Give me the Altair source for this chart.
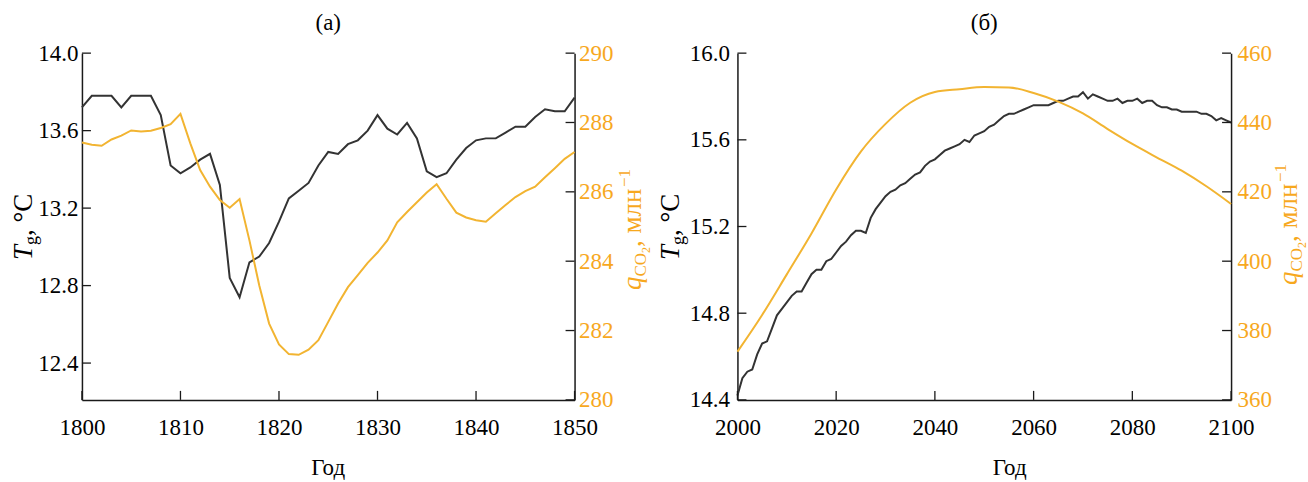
import altair as alt
import pandas as pd

# ---------------- data ----------------
# Panel (а): 1800-1850, annual values
years_a = list(range(1800, 1851))
temp_a = [
    13.72, 13.78, 13.78, 13.78, 13.72, 13.78, 13.78, 13.78, 13.68, 13.42,
    13.38, 13.41, 13.45, 13.48, 13.32, 12.84, 12.74, 12.92, 12.95, 13.02,
    13.13, 13.25, 13.29, 13.33, 13.42, 13.49, 13.48, 13.53, 13.55, 13.60,
    13.68, 13.61, 13.58, 13.64, 13.56, 13.39, 13.36, 13.38, 13.45, 13.51,
    13.55, 13.56, 13.56, 13.59, 13.62, 13.62, 13.67, 13.71, 13.70, 13.70,
    13.77,
]
co2_a = [
    287.42, 287.36, 287.33, 287.51, 287.62, 287.77, 287.74, 287.76, 287.84, 287.95,
    288.25, 287.40, 286.63, 286.15, 285.76, 285.54, 285.79, 284.60, 283.30, 282.20,
    281.60, 281.32, 281.30, 281.45, 281.72, 282.25, 282.78, 283.25, 283.60, 283.95,
    284.25, 284.60, 285.12, 285.42, 285.70, 285.98, 286.22, 285.80, 285.40, 285.26,
    285.18, 285.14, 285.38, 285.62, 285.85, 286.02, 286.15, 286.42, 286.68, 286.95,
    287.15,
]

# Panel (б): 2000-2100
years_b = list(range(2000, 2101))
temp_b = [
    14.42, 14.50, 14.53, 14.54, 14.61, 14.66, 14.67, 14.73, 14.79, 14.82,
    14.85, 14.88, 14.90, 14.90, 14.94, 14.98, 15.00, 15.00, 15.04, 15.05,
    15.08, 15.11, 15.13, 15.16, 15.18, 15.18, 15.17, 15.24, 15.28, 15.31,
    15.34, 15.36, 15.37, 15.39, 15.40, 15.42, 15.44, 15.45, 15.48, 15.50,
    15.51, 15.53, 15.55, 15.56, 15.57, 15.58, 15.60, 15.59, 15.62, 15.63,
    15.64, 15.66, 15.67, 15.69, 15.71, 15.72, 15.72, 15.73, 15.74, 15.75,
    15.76, 15.76, 15.76, 15.76, 15.77, 15.78, 15.78, 15.79, 15.80, 15.80,
    15.82, 15.79, 15.81, 15.80, 15.79, 15.78, 15.78, 15.79, 15.77, 15.78,
    15.78, 15.79, 15.77, 15.78, 15.78, 15.76, 15.75, 15.75, 15.74, 15.74,
    15.73, 15.73, 15.73, 15.73, 15.72, 15.72, 15.71, 15.69, 15.70, 15.69,
    15.68,
]
years_b_co2 = list(range(2000, 2101, 5))
co2_b = [
    373.9, 384.5, 396.2, 408.0, 420.7, 431.6, 439.6, 445.7, 448.8, 449.6,
    450.2, 450.1, 448.5, 446.0, 442.6, 438.1, 433.8, 429.9, 426.1, 421.6,
    416.5,
]

# tick values
xticks_a = [1800, 1810, 1820, 1830, 1840, 1850]
xticks_b = [2000, 2020, 2040, 2060, 2080, 2100]
tticks_a = [12.4, 12.8, 13.2, 13.6, 14.0]
tticks_b = [14.4, 14.8, 15.2, 15.6, 16.0]
qticks_a = [280, 282, 284, 286, 288, 290]
qticks_b = [360, 380, 400, 420, 440, 460]

# ---------------- style ----------------
FONT = "'Liberation Serif', 'Times New Roman', 'DejaVu Serif', serif"
BLACK_LINE = "#333333"
ORANGE_LINE = "#F2B431"
ORANGE_TEXT = "#F7A81E"
AXIS = "#1a1a1a"
H = 347
TICK = 9
one_row = pd.DataFrame({"k": [0]})


def text_piece(text, x, y, size, color, italic=False, angle=270, align="left"):
    return alt.Chart(one_row).mark_text(
        text=text, font=FONT, fontSize=size,
        fontStyle="italic" if italic else "normal",
        color=color, angle=angle, align=align, baseline="alphabetic",
    ).encode(x=alt.value(x), y=alt.value(y))


def t_title(bx, by):
    # T_g, °C written bottom-to-top
    return [
        text_piece("T", bx, by, 27, "black", italic=True),
        text_piece("g", bx + 5, by - 15, 18, "black"),
        text_piece(", °C", bx, by - 24, 27, "black"),
    ]


def q_title(bx, by):
    # q_CO2, млн^-1 written bottom-to-top
    return [
        text_piece("q", bx, by, 27, ORANGE_TEXT, italic=True),
        text_piece("CO", bx + 5, by - 13.5, 17, ORANGE_TEXT),
        text_piece("2", bx + 9, by - 37, 12, ORANGE_TEXT),
        text_piece(", млн", bx, by - 43, 27, ORANGE_TEXT),
        text_piece("−1", bx - 11, by - 103, 17, ORANGE_TEXT),
    ]


def build_panel(label, years, temp, q_years, q, x_dom, x_ticks, t_dom, t_ticks,
                q_dom, q_ticks, width, t_pad, q_pad, year_title_x,
                t_title_pos, q_title_pos, edge_x, q_interp):
    axis_base = dict(
        domainColor=AXIS, domainWidth=1.5, ticks=False, tickSize=0, grid=False,
        labelFont=FONT, labelFontSize=23, labelColor="black",
        labelFlush=False, labelOverlap=False,
    )
    x_scale = alt.Scale(domain=x_dom, nice=False, zero=False)
    x_axis = alt.Axis(
        values=x_ticks, format="d", title="Год", titleFont=FONT, titleFontSize=23,
        titleFontWeight="normal", titleColor="black", titleBaseline="alphabetic",
        titleY=75, titleX=year_title_x, labelBaseline="alphabetic", labelPadding=35,
        **axis_base,
    )
    x_enc = alt.X("year:Q", scale=x_scale, axis=x_axis)
    t_scale = alt.Scale(domain=t_dom, nice=False, zero=False)
    q_scale = alt.Scale(domain=q_dom, nice=False, zero=False)

    t_df = pd.DataFrame({"year": years, "T": temp})
    q_df = pd.DataFrame({"year": q_years, "q": q})

    t_line = alt.Chart(t_df).mark_line(color=BLACK_LINE, strokeWidth=2).encode(
        x=x_enc,
        y=alt.Y("T:Q", scale=t_scale,
                axis=alt.Axis(orient="left", values=t_ticks, format=".1f", title=None,
                              labelPadding=t_pad, **axis_base)),
    )
    t_ticks_layer = alt.Chart(pd.DataFrame({"T": t_ticks})).mark_rule(
        color=AXIS, strokeWidth=1.3).encode(
        y=alt.Y("T:Q", scale=t_scale, axis=None),
        x=alt.value(0), x2=alt.value(TICK),
    )
    q_line = alt.Chart(q_df).mark_line(color=ORANGE_LINE, strokeWidth=2,
                                       interpolate=q_interp).encode(
        x=x_enc,
        y=alt.Y("q:Q", scale=q_scale,
                axis=alt.Axis(orient="right", values=q_ticks, format="d", title=None,
                              labelPadding=q_pad, **{**axis_base, "labelColor": ORANGE_TEXT})),
    )
    q_ticks_layer = alt.Chart(pd.DataFrame({"q": q_ticks})).mark_rule(
        color=AXIS, strokeWidth=1.3).encode(
        y=alt.Y("q:Q", scale=q_scale, axis=None),
        x=alt.value(width - TICK), x2=alt.value(width),
    )
    x_ticks_layer = alt.Chart(pd.DataFrame({"year": x_ticks})).mark_rule(
        color=AXIS, strokeWidth=1.3).encode(
        x=x_enc, y=alt.value(H - TICK), y2=alt.value(H),
    )
    # transparent frame edge so the figure keeps its outer margins
    edge = alt.Chart(one_row).mark_rule(strokeOpacity=0, opacity=0).encode(
        x=alt.value(edge_x), y=alt.value(-53), y2=alt.value(429),
    )
    panel_label = text_piece(label, width / 2, -23, 23, "black", angle=0, align="center")

    layers = [t_line, t_ticks_layer, q_line, q_ticks_layer, x_ticks_layer, edge, panel_label]
    layers += t_title(*t_title_pos)
    layers += q_title(*q_title_pos)

    return alt.layer(*layers).resolve_scale(y="independent").properties(
        width=width, height=H,
    )


panel_a = build_panel(
    "(а)", years_a, temp_a, years_a, co2_a, [1800, 1850], xticks_a,
    [12.21, 14.0], tticks_a, [280, 290], qticks_a,
    width=493, t_pad=4, q_pad=4, year_title_x=246,
    t_title_pos=(-50, 207), q_title_pos=(559, 237), edge_x=-82, q_interp="linear",
)
panel_b = build_panel(
    "(б)", years_b, temp_b, years_b_co2, co2_b, [2000, 2100], xticks_b,
    [14.4, 16.0], tticks_b, [360, 460], qticks_b,
    width=494, t_pad=8, q_pad=6, year_title_x=272,
    t_title_pos=(-58, 207), q_title_pos=(560, 232), edge_x=570, q_interp="monotone",
)

chart = alt.hconcat(panel_a, panel_b, spacing=163, bounds="flush").properties(
    padding=0
).configure_view(stroke=None)

chart.save("out.html", embed_options={"renderer": "svg", "actions": False})
